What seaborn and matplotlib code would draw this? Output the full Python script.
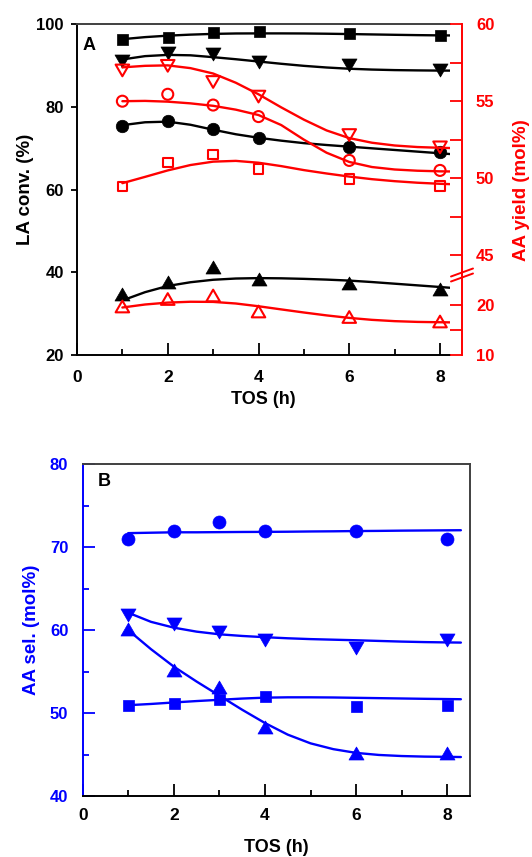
import numpy as np
import matplotlib
matplotlib.use("Agg")
import matplotlib.pyplot as plt
import seaborn as sns
from matplotlib.path import Path
from matplotlib.ticker import FixedLocator, MultipleLocator, NullFormatter, FuncFormatter
from matplotlib.lines import Line2D
import matplotlib.transforms as mtransforms

sns.set_theme(style="ticks")
plt.rcParams["font.family"] = ["Liberation Sans", "DejaVu Sans"]
plt.rcParams["font.weight"] = "bold"
plt.rcParams["axes.labelweight"] = "bold"
plt.rcParams["text.color"] = "black"
plt.rcParams["axes.labelcolor"] = "black"

# ---------------- data ----------------
tos = [1, 2, 3, 4, 6, 8]

# Panel A, left axis: LA conversion (%), filled symbols
conv_square = [96.5, 97.0, 98.2, 98.5, 97.8, 97.5]
conv_down = [91.2, 93.1, 92.8, 91.0, 90.2, 88.9]
conv_circle = [75.3, 76.5, 74.6, 72.4, 70.4, 69.0]
conv_up = [34.8, 37.6, 41.3, 38.4, 37.4, 36.0]

# Panel A, right axis: AA yield (mol%), open symbols
yield_down = [57.0, 57.3, 56.25, 55.3, 52.8, 52.0]
yield_circle = [55.0, 55.45, 54.75, 54.0, 51.15, 50.5]
yield_square = [49.45, 51.0, 51.55, 50.6, 49.95, 49.5]
yield_up = [19.7, 21.2, 21.9, 18.7, 17.6, 16.7]

# Panel B: AA selectivity (mol%)
sel_circle = [71.0, 72.0, 73.0, 72.0, 72.0, 71.0]
sel_down = [61.8, 60.8, 59.8, 58.8, 57.8, 58.8]
sel_up = [60.1, 55.2, 53.2, 48.3, 45.2, 45.2]
sel_square = [51.0, 51.2, 51.7, 52.0, 50.9, 51.0]

# Fitted trend lines, sampled along TOS
fit_tos = [1, 1.5, 2, 2.5, 3, 3.5, 4, 4.5, 5, 5.5, 6, 6.5, 7, 7.5, 8, 8.3]
fit_conv_square = [96.4, 96.9, 97.25, 97.5, 97.68, 97.78, 97.8, 97.8, 97.78, 97.72, 97.64, 97.55, 97.46, 97.38, 97.32, 97.3]
fit_conv_down = [91.5, 92.3, 92.6, 92.5, 92.05, 91.55, 91.0, 90.45, 89.95, 89.55, 89.25, 89.05, 88.92, 88.85, 88.8, 88.8]
fit_conv_circle = [75.6, 76.3, 76.45, 75.7, 74.5, 73.4, 72.55, 71.85, 71.25, 70.8, 70.4, 70.0, 69.6, 69.2, 68.8, 68.55]
fit_conv_up = [33.2, 35.2, 36.7, 37.6, 38.2, 38.5, 38.6, 38.55, 38.42, 38.24, 38.0, 37.65, 37.25, 36.85, 36.45, 36.2]

fit_yield_down = [57.2, 57.3, 57.33, 57.15, 56.8, 56.2, 55.45, 54.6, 53.8, 53.1, 52.6, 52.3, 52.12, 52.02, 51.97, 51.95]
fit_yield_circle = [55.0, 55.02, 54.97, 54.86, 54.7, 54.45, 54.1, 53.45, 52.5, 51.65, 51.05, 50.72, 50.56, 50.48, 50.44, 50.43]
fit_yield_square = [49.67, 50.08, 50.5, 50.85, 51.07, 51.12, 51.0, 50.78, 50.52, 50.3, 50.1, 49.93, 49.8, 49.7, 49.63, 49.6]
fit_yield_up = [19.5, 20.1, 20.48, 20.65, 20.62, 20.3, 19.75, 19.12, 18.5, 17.92, 17.42, 17.03, 16.77, 16.62, 16.55, 16.52]

fit_sel_circle = [71.7, 71.75, 71.8, 71.8, 71.82, 71.84, 71.85, 71.87, 71.9, 71.92, 71.95, 71.97, 72.0, 72.02, 72.04, 72.05]
fit_sel_down = [62.1, 61.0, 60.3, 59.82, 59.5, 59.3, 59.15, 59.02, 58.92, 58.85, 58.78, 58.7, 58.62, 58.56, 58.52, 58.5]
fit_sel_up = [60.0, 57.7, 55.6, 53.8, 52.1, 50.4, 48.8, 47.4, 46.35, 45.65, 45.2, 44.95, 44.82, 44.75, 44.72, 44.7]
fit_sel_square = [50.95, 51.1, 51.28, 51.45, 51.6, 51.75, 51.86, 51.9, 51.9, 51.88, 51.84, 51.8, 51.76, 51.72, 51.69, 51.67]

# Broken right axis: yield value -> linear drawing coordinate
yield_knots = [10, 26, 43.96, 60]
yield_draw = [0, 80, 84, 330.7]

RED = "#ff0000"
BLUE = "#0000ff"
BLACK = "#000000"
GREY = "#404040"

PX = 72 / 100  # points per pixel at dpi 100

TRI_UP = Path([(-1, -0.866), (1, -0.866), (0, 0.866), (-1, -0.866)],
              [Path.MOVETO, Path.LINETO, Path.LINETO, Path.CLOSEPOLY])
TRI_DOWN = Path([(-1, 0.866), (1, 0.866), (0, -0.866), (-1, 0.866)],
                [Path.MOVETO, Path.LINETO, Path.LINETO, Path.CLOSEPOLY])


def fwd(v):
    return np.interp(v, yield_knots, yield_draw)


def inv(v):
    return np.interp(v, yield_draw, yield_knots)


def points(ax, y, marker, color, size, filled=True):
    kw = dict(x=tos, y=y, ax=ax, marker=marker, s=(size * PX) ** 2, legend=False, zorder=4)
    if filled:
        sns.scatterplot(color=color, edgecolor=color, linewidth=0.5, **kw)
    else:
        sns.scatterplot(color=color, facecolors="none", edgecolor=color, linewidth=1.5, **kw)


def trend(ax, y, color):
    sns.lineplot(x=fit_tos, y=y, ax=ax, color=color, linewidth=1.7, legend=False, zorder=3)


fig = plt.figure(figsize=(5.32, 8.57), dpi=100)

# ================= Panel A =================
axA = fig.add_axes([77 / 532, 1 - 355 / 857, 373 / 532, 330.7 / 857])
axY = axA.twinx()
axY.set_yscale("function", functions=(fwd, inv))

trend(axA, fit_conv_square, BLACK)
trend(axA, fit_conv_down, BLACK)
trend(axA, fit_conv_circle, BLACK)
trend(axA, fit_conv_up, BLACK)
points(axA, conv_square, "s", BLACK, 11)
points(axA, conv_down, TRI_DOWN, BLACK, 15)
points(axA, conv_circle, "o", BLACK, 12.5)
points(axA, conv_up, TRI_UP, BLACK, 15)

trend(axY, fit_yield_down, RED)
trend(axY, fit_yield_circle, RED)
trend(axY, fit_yield_square, RED)
trend(axY, fit_yield_up, RED)
points(axY, yield_down, TRI_DOWN, RED, 13.5, filled=False)
points(axY, yield_circle, "o", RED, 11, filled=False)
points(axY, yield_square, "s", RED, 9.5, filled=False)
points(axY, yield_up, TRI_UP, RED, 13.5, filled=False)

axA.set_xlim(0, 8.22)
axA.set_ylim(20, 100)
axY.set_ylim(10, 60)

axA.xaxis.set_major_locator(MultipleLocator(2))
axA.xaxis.set_minor_locator(MultipleLocator(1))
axA.yaxis.set_major_locator(MultipleLocator(20))
axA.tick_params(axis="x", which="major", direction="in", length=12 * PX, width=1.3,
                pad=10.5, labelsize=12.5, colors=BLACK)
axA.tick_params(axis="x", which="minor", direction="in", length=6 * PX, width=1.3, colors=BLACK)
axA.tick_params(axis="y", which="major", direction="out", length=6 * PX, width=1.3,
                pad=5.3, labelsize=12, colors=BLACK)

axY.yaxis.set_major_locator(FixedLocator([10, 20, 45, 50, 55, 60]))
axY.yaxis.set_minor_locator(FixedLocator([15, 47.5, 52.5, 57.5]))
axY.yaxis.set_minor_formatter(NullFormatter())
axY.yaxis.set_major_formatter(FuncFormatter(lambda v, p: f"{v:g}"))
axY.tick_params(axis="y", which="both", direction="in", length=12 * PX, width=1.3,
                pad=10, labelsize=12, colors=RED)

for name in ("left", "bottom"):
    axA.spines[name].set_color(BLACK)
axA.spines["top"].set_color(GREY)
axA.spines["right"].set_visible(False)
for name in ("left", "top", "bottom"):
    axY.spines[name].set_visible(False)
axY.spines["right"].set_color(RED)
axY.spines["right"].set_position(("outward", 12 * PX))
for sp in list(axA.spines.values()) + list(axY.spines.values()):
    sp.set_linewidth(1.4)

axA.set_xlabel("TOS (h)", fontsize=13, fontweight="bold")
axA.set_ylabel("LA conv. (%)", fontsize=13.5, fontweight="bold")
axY.set_ylabel("AA yield (mol%)", fontsize=13.5, fontweight="bold", color=RED)
axA.xaxis.set_label_coords(0.5, (355 - 391) / 330.7)
axA.yaxis.set_label_coords((34 - 77) / 373, 0.5)
axY.yaxis.set_label_coords((513 - 77) / 373, 0.5)

# axis-break slashes on the yield axis
for dy in (-2.5, 2.5):
    fig.add_artist(Line2D([451, 473], [857 - 275 - dy - 4, 857 - 275 - dy + 4],
                          transform=mtransforms.IdentityTransform(),
                          color=RED, linewidth=1.4, clip_on=False))

fig.text(83 / 532, 1 - 37 / 857, "A", fontsize=13, fontweight="bold", va="top", ha="left")

# ================= Panel B =================
axB = fig.add_axes([82.7 / 532, 1 - 796 / 857, 387.3 / 532, 331.7 / 857])

trend(axB, fit_sel_circle, BLUE)
trend(axB, fit_sel_down, BLUE)
trend(axB, fit_sel_up, BLUE)
trend(axB, fit_sel_square, BLUE)
points(axB, sel_circle, "o", BLUE, 13)
points(axB, sel_down, TRI_DOWN, BLUE, 15)
points(axB, sel_up, TRI_UP, BLUE, 15)
points(axB, sel_square, "s", BLUE, 11)

axB.set_xlim(0, 8.5)
axB.set_ylim(40, 80)
axB.xaxis.set_major_locator(MultipleLocator(2))
axB.xaxis.set_minor_locator(MultipleLocator(1))
axB.yaxis.set_major_locator(MultipleLocator(10))
axB.yaxis.set_minor_locator(MultipleLocator(5))
axB.tick_params(axis="x", which="major", direction="in", length=12 * PX, width=1.3,
                pad=8.6, labelsize=12.5, colors=BLACK)
axB.tick_params(axis="x", which="minor", direction="in", length=6 * PX, width=1.3, colors=BLACK)
axB.tick_params(axis="y", which="major", direction="in", length=12 * PX, width=1.3,
                pad=10.4, labelsize=12, colors=BLUE)
axB.tick_params(axis="y", which="minor", direction="in", length=6 * PX, width=1.3, colors=BLUE)

axB.spines["left"].set_color(BLUE)
axB.spines["bottom"].set_color(BLACK)
axB.spines["top"].set_color(GREY)
axB.spines["right"].set_color(GREY)
for sp in axB.spines.values():
    sp.set_linewidth(1.4)

axB.set_xlabel("TOS (h)", fontsize=13, fontweight="bold")
axB.set_ylabel("AA sel. (mol%)", fontsize=13.5, fontweight="bold", color=BLUE)
axB.xaxis.set_label_coords(0.5, (796 - 839) / 331.7)
axB.yaxis.set_label_coords((40 - 82.7) / 387.3, 0.5)

fig.text(98 / 532, 1 - 473 / 857, "B", fontsize=13, fontweight="bold", va="top", ha="left")

fig.savefig("out.png", dpi=100)
